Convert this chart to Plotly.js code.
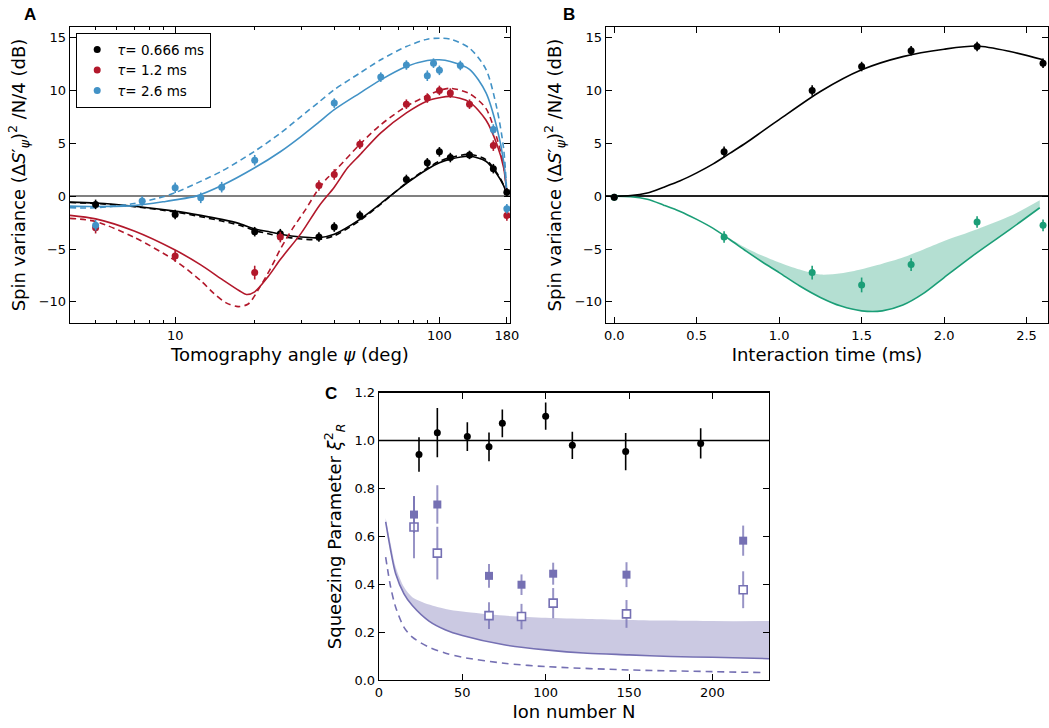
<!DOCTYPE html>
<html><head><meta charset="utf-8">
<script src="https://cdn.plot.ly/plotly-3.0.1.min.js"></script>
<style>html,body{margin:0;padding:0;background:#fff}</style>
</head><body><div id="chart" style="width:1049px;height:728px"></div>
<script>
// ---------------- Panel A: tomography angle scans ----------------
const angA = [5,10,20,25,35,40,50,75,90,100,110,130,160,180];
const varA_t066 = [-0.78,-1.73,-3.36,-3.55,-3.87,-2.92,-1.82,1.58,3.15,4.19,3.65,3.9,2.6,0.38];
const errA_t066 = [0.45,0.45,0.45,0.45,0.45,0.45,0.45,0.45,0.45,0.45,0.45,0.4,0.45,0.4];
const varA_t12 = [-2.98,-5.66,-7.23,-3.87,1.0,2.05,4.9,8.7,9.28,10.0,9.75,8.7,4.78,-1.82];
const errA_t12 = [0.55,0.55,0.65,0.5,0.5,0.5,0.45,0.45,0.45,0.45,0.45,0.45,0.5,0.5];
const angA26 = [5,7.5,10,12.5,15,20,40,60,75,90,95,100,120,160,180];
const varA_t26 = [-2.76,-0.47,0.79,-0.16,0.85,3.4,8.8,11.26,12.4,11.39,12.58,11.9,12.36,6.3,-1.19];
const errA_t26 = [0.5,0.45,0.5,0.5,0.5,0.5,0.45,0.45,0.45,0.5,0.45,0.45,0.45,0.5,0.45];

const thAngK = [4,5,7,10,12.5,15,17.5,20,22.5,25,30,35,40,50,60,75,90,100,110,130,150,165,175,180];
const thK_solid = [-0.57,-0.65,-0.95,-1.42,-1.82,-2.2,-2.6,-3.1,-3.35,-3.6,-3.87,-3.93,-3.6,-2.2,-0.7,1.2,2.55,3.15,3.5,3.77,3.3,2.1,1.0,0.2];
const thK_dash  = [-0.6,-0.7,-1.0,-1.5,-1.95,-2.35,-2.75,-3.25,-3.55,-3.8,-4.05,-4.1,-3.75,-2.3,-0.75,1.25,2.65,3.3,3.65,3.95,3.45,2.2,1.05,0.2];

const thAngR = [4,5,7,10,12.5,15,17.5,18.6,20,22.5,25,30,35,40,45,50,60,75,90,100,110,130,150,165,175,180];
const thR_solid = [-1.82,-2.15,-3.3,-5.1,-6.5,-7.85,-8.95,-9.3,-9.05,-7.6,-6.0,-3.5,-0.95,0.85,2.7,3.9,5.98,7.87,9.0,9.3,9.43,8.9,7.2,4.9,2.7,0.2];
const thAngRd = [4,5,7,10,12.5,14,15.6,17.3,18.9,20.7,22.9,25,27.7,31.2,34.1,37.2,40.7,50,60,75,90,100,110,130,150,165,175,180];
const thR_dash = [-2.1,-2.4,-3.9,-6.1,-8.0,-9.2,-10.1,-10.45,-10.2,-8.8,-6.9,-5.03,-3.14,-1.25,0.32,1.57,2.52,4.9,6.76,8.5,9.5,10.0,10.2,9.7,8.3,5.5,3.0,0.2];

const thAngB = [4,5,7,9.2,10,12,15,20,25,30,35,40,50,60,75,90,100,110,130,150,165,175,180];
const thB_solid = [-0.94,-0.98,-0.9,-0.5,-0.35,0,1.0,2.68,4.2,5.66,7.0,8.18,9.75,11.0,12.26,12.83,12.9,12.74,12.0,9.8,6.5,3.3,0.2];
const thB_dash  = [-1.1,-1.1,-0.7,0,0.32,1.2,2.36,4.25,5.95,7.55,8.9,10.07,11.64,12.9,14.15,14.85,14.94,14.85,14.0,12.0,8.3,4.5,0.2];

// ---------------- Panel B: interaction time ----------------
const timeB = [0,0.666,1.2,1.5,1.8,2.2,2.6];
const antiB = [-0.1,4.19,10.0,12.26,13.75,14.15,12.58];
const antiErrB = [0.3,0.5,0.5,0.45,0.45,0.45,0.45];
const sqzB = [-0.1,-3.87,-7.23,-8.4,-6.47,-2.45,-2.76];
const sqzErrB = [0.3,0.55,0.65,0.7,0.6,0.55,0.55];
const thTimeAnti = [0,0.1,0.2,0.3,0.4,0.5,0.6,0.7,0.8,0.9,1.0,1.25,1.5,1.75,2.0,2.2,2.4,2.6];
const thAnti = [0,0.05,0.3,0.85,1.45,2.2,3.05,4.05,5.05,6.15,7.24,9.9,11.95,13.2,13.9,14.2,13.68,12.9];
const thTimeSqz = [0,0.1,0.2,0.3,0.4,0.5,0.6,0.7,0.8,0.9,1.0,1.125,1.25,1.375,1.5,1.625,1.75,1.875,2.0,2.2,2.4,2.58];
const thSqzLow = [0,-0.05,-0.3,-0.85,-1.45,-2.2,-3.05,-4.1,-5.2,-6.25,-7.23,-8.5,-9.58,-10.4,-10.85,-10.85,-10.3,-9.2,-7.7,-5.34,-3.14,-1.1];
const thSqzHigh = [0,-0.05,-0.3,-0.85,-1.45,-2.2,-3.05,-4.0,-4.9,-5.65,-6.28,-6.95,-7.42,-7.3,-6.92,-6.4,-5.81,-5.05,-4.25,-3.14,-1.89,-0.38];

// ---------------- Panel C: squeezing parameter vs ion number ----------------
const ionBlack = [24,35,53,66,74,100,116,148,193];
const xiBlack = [0.942,1.033,1.017,0.974,1.072,1.102,0.98,0.954,0.988];
const xiBlackErr = [0.072,0.103,0.06,0.06,0.058,0.057,0.057,0.078,0.063];
const ionSq = [21,35,66,85.5,104.5,148.5,218.5];
const xiFilled = [0.691,0.733,0.435,0.398,0.444,0.44,0.582];
const xiFilledErr = [0.077,0.08,0.05,0.043,0.046,0.052,0.063];
const xiOpen = [0.639,0.53,0.269,0.265,0.321,0.276,0.377];
const xiOpenErr = [0.13,0.11,0.056,0.053,0.063,0.058,0.077];
const ionTh = [4,7,10,15,20,30,40,50,75,100,125,150,175,200,234];
const xiThSolid = [0.66,0.541,0.444,0.36,0.311,0.246,0.209,0.186,0.147,0.126,0.112,0.105,0.098,0.095,0.089];
const xiThUpper = [0.677,0.569,0.472,0.388,0.346,0.315,0.297,0.286,0.269,0.26,0.255,0.251,0.248,0.246,0.246];
const ionThD = [4,7,10,15,20,30,40,50,75,100,150,200,230];
const xiThDash = [0.513,0.388,0.304,0.22,0.179,0.137,0.112,0.095,0.07,0.056,0.042,0.035,0.031];

// ---------------- styling ----------------
const K = '#000000', RED = '#b2182b', BLUE = '#4292c6', GREEN = '#1b9e77', PURPLE = '#7570b3';
const FONT = 'DejaVu Sans, sans-serif';
const W = 1049, H = 728;
const fx = p => p / W, fy = p => 1 - p / H;

function curve(x, y, color, dash, xa, ya) {
  return {x, y, xaxis: xa, yaxis: ya, mode: 'lines', showlegend: false, hoverinfo: 'skip',
    line: {color, width: 1.6, dash: dash || 'solid', shape: 'spline', smoothing: 0.8}};
}
function pts(x, y, err, color, xa, ya, name, sym, size, extra) {
  const t = {x, y, xaxis: xa, yaxis: ya, mode: 'markers', name: name || '', showlegend: !!name,
    marker: {color, size: size || 7, symbol: sym || 'circle', line: {width: 0}},
    error_y: {type: 'data', array: err, visible: true, color, thickness: 1.6, width: 0}};
  return Object.assign(t, extra || {});
}

const traces = [
  // Panel A curves
  curve(thAngK, thK_dash, K, '6px,4px', 'x', 'y'),
  curve(thAngK, thK_solid, K, null, 'x', 'y'),
  curve(thAngRd, thR_dash, RED, '6px,4px', 'x', 'y'),
  curve(thAngR, thR_solid, RED, null, 'x', 'y'),
  curve(thAngB, thB_dash, BLUE, '6px,4px', 'x', 'y'),
  curve(thAngB, thB_solid, BLUE, null, 'x', 'y'),
  pts(angA, varA_t066, errA_t066, K, 'x', 'y', '<i>τ</i>= 0.666 ms'),
  pts(angA, varA_t12, errA_t12, RED, 'x', 'y', '<i>τ</i>= 1.2 ms'),
  pts(angA26, varA_t26, errA_t26, BLUE, 'x', 'y', '<i>τ</i>= 2.6 ms'),
  // Panel B
  {x: thTimeSqz, y: thSqzHigh, xaxis: 'x2', yaxis: 'y2', mode: 'lines', showlegend: false,
   line: {width: 0, shape: 'spline', smoothing: 0.8, color: 'rgba(27,158,119,0)'}},
  {x: thTimeSqz, y: thSqzLow, xaxis: 'x2', yaxis: 'y2', mode: 'lines', showlegend: false, fill: 'tonexty',
   fillcolor: 'rgba(27,158,119,0.33)', line: {width: 1.6, color: GREEN, shape: 'spline', smoothing: 0.8}},
  curve(thTimeAnti, thAnti, K, null, 'x2', 'y2'),
  pts(timeB, sqzB, sqzErrB, GREEN, 'x2', 'y2'),
  pts(timeB, antiB, antiErrB, K, 'x2', 'y2'),
  // Panel C
  {x: ionTh, y: xiThUpper, xaxis: 'x3', yaxis: 'y3', mode: 'lines', showlegend: false,
   line: {width: 0, shape: 'spline', smoothing: 0.8, color: 'rgba(117,112,179,0)'}},
  {x: ionTh, y: xiThSolid, xaxis: 'x3', yaxis: 'y3', mode: 'lines', showlegend: false, fill: 'tonexty',
   fillcolor: 'rgba(117,112,179,0.38)', line: {width: 1.6, color: PURPLE, shape: 'spline', smoothing: 0.8}},
  curve(ionThD, xiThDash, PURPLE, '7px,5px', 'x3', 'y3'),
  pts(ionSq, xiOpen, xiOpenErr, 'rgba(117,112,179,0.75)', 'x3', 'y3', null, 'square', 8,
      {marker: {color: 'white', size: 8, symbol: 'square', line: {color: PURPLE, width: 1.6}}}),
  pts(ionSq, xiFilled, xiFilledErr, 'rgba(117,112,179,0.75)', 'x3', 'y3', null, 'square', 8,
      {marker: {color: PURPLE, size: 8, symbol: 'square', line: {width: 0}}}),
  pts(ionBlack, xiBlack, xiBlackErr, K, 'x3', 'y3')
];
traces[traces.length-2].error_y.thickness = 2;
traces[traces.length-3].error_y.thickness = 2;

const tickFont = {family: FONT, size: 13, color: '#000'};
const titleFont = {family: FONT, size: 18, color: '#000'};
function ax(extra) {
  return Object.assign({showline: true, linecolor: '#000', linewidth: 1.3, mirror: 'ticks',
    ticks: 'inside', ticklen: 6, tickwidth: 1, tickcolor: '#000', showgrid: false, zeroline: false,
    tickfont: tickFont, automargin: false, fixedrange: true}, extra);
}
const yTitle = 'Spin variance (Δ<i>S</i>′<sub><i>ψ</i></sub>)<sup>2</sup> /N/4 (dB)';

const layout = {
  width: W, height: H, margin: {l: 0, r: 0, t: 0, b: 0},
  paper_bgcolor: 'white', plot_bgcolor: 'white', font: {family: FONT, color: '#000'},
  showlegend: true,
  legend: {x: fx(76), y: fy(33), xanchor: 'left', yanchor: 'top', bgcolor: 'white', traceorder: 'normal',
    bordercolor: '#000', borderwidth: 1.2, font: {family: FONT, size: 13.5}, itemwidth: 30, tracegroupgap: 0},
  xaxis: ax({type: 'log', domain: [fx(70), fx(510)], anchor: 'y', range: [Math.log10(4), Math.log10(185)],
    tickmode: 'array', tickvals: [10, 100, 180], ticktext: ['10', '100', '180'],
    minor: {tickmode: 'array', tickvals: [5,6,7,8,9,20,30,40,50,60,70,80,90], ticks: 'inside', ticklen: 3, tickcolor: '#000'},
    title: {text: 'Tomography angle <i>ψ</i> (deg)', font: titleFont, standoff: 6}}),
  yaxis: ax({domain: [fy(323), fy(27)], anchor: 'x', range: [-12, 16], tickmode: 'array',
    tickvals: [-10, -5, 0, 5, 10, 15], zeroline: true, zerolinecolor: '#808080', zerolinewidth: 2,
    title: {text: yTitle, font: titleFont, standoff: 8}}),
  xaxis2: ax({domain: [fx(606), fx(1048)], anchor: 'y2', range: [-0.05, 2.63], tickmode: 'array',
    tickvals: [0, 0.5, 1, 1.5, 2, 2.5], tickformat: '.1f',
    title: {text: 'Interaction time (ms)', font: titleFont, standoff: 6}}),
  yaxis2: ax({domain: [fy(323), fy(27)], anchor: 'x2', range: [-12, 16], tickmode: 'array',
    tickvals: [-10, -5, 0, 5, 10, 15], zeroline: true, zerolinecolor: '#222', zerolinewidth: 1.5,
    title: {text: yTitle, font: titleFont, standoff: 8}}),
  xaxis3: ax({domain: [fx(379), fx(769)], anchor: 'y3', range: [0, 234], tickmode: 'array',
    tickvals: [0, 50, 100, 150, 200],
    title: {text: 'Ion number N', font: titleFont, standoff: 6}}),
  yaxis3: ax({domain: [fy(680), fy(392.7)], anchor: 'x3', range: [0, 1.2], tickmode: 'array',
    tickvals: [0, 0.2, 0.4, 0.6, 0.8, 1.0, 1.2], tickformat: '.1f',
    title: {text: 'Squeezing Parameter <i>ξ</i><sup>2</sup><sub><i>R</i></sub>', font: titleFont, standoff: 8}}),
  shapes: [{type: 'line', xref: 'x3 domain', yref: 'y3', x0: 0, x1: 1, y0: 1, y1: 1,
    line: {color: '#000', width: 1.5}, layer: 'below'}],
  annotations: [
    {text: '<b>A</b>', x: fx(22), y: fy(3), xref: 'paper', yref: 'paper', xanchor: 'left', yanchor: 'top',
     showarrow: false, font: {family: 'Liberation Sans, Arial, sans-serif', size: 17, color: '#000'}},
    {text: '<b>B</b>', x: fx(561), y: fy(3), xref: 'paper', yref: 'paper', xanchor: 'left', yanchor: 'top',
     showarrow: false, font: {family: 'Liberation Sans, Arial, sans-serif', size: 17, color: '#000'}},
    {text: '<b>C</b>', x: fx(323), y: fy(382), xref: 'paper', yref: 'paper', xanchor: 'left', yanchor: 'top',
     showarrow: false, font: {family: 'Liberation Sans, Arial, sans-serif', size: 17, color: '#000'}}
  ]
};

Plotly.newPlot('chart', traces, layout, {staticPlot: true, displayModeBar: false});
</script>
</body></html>
